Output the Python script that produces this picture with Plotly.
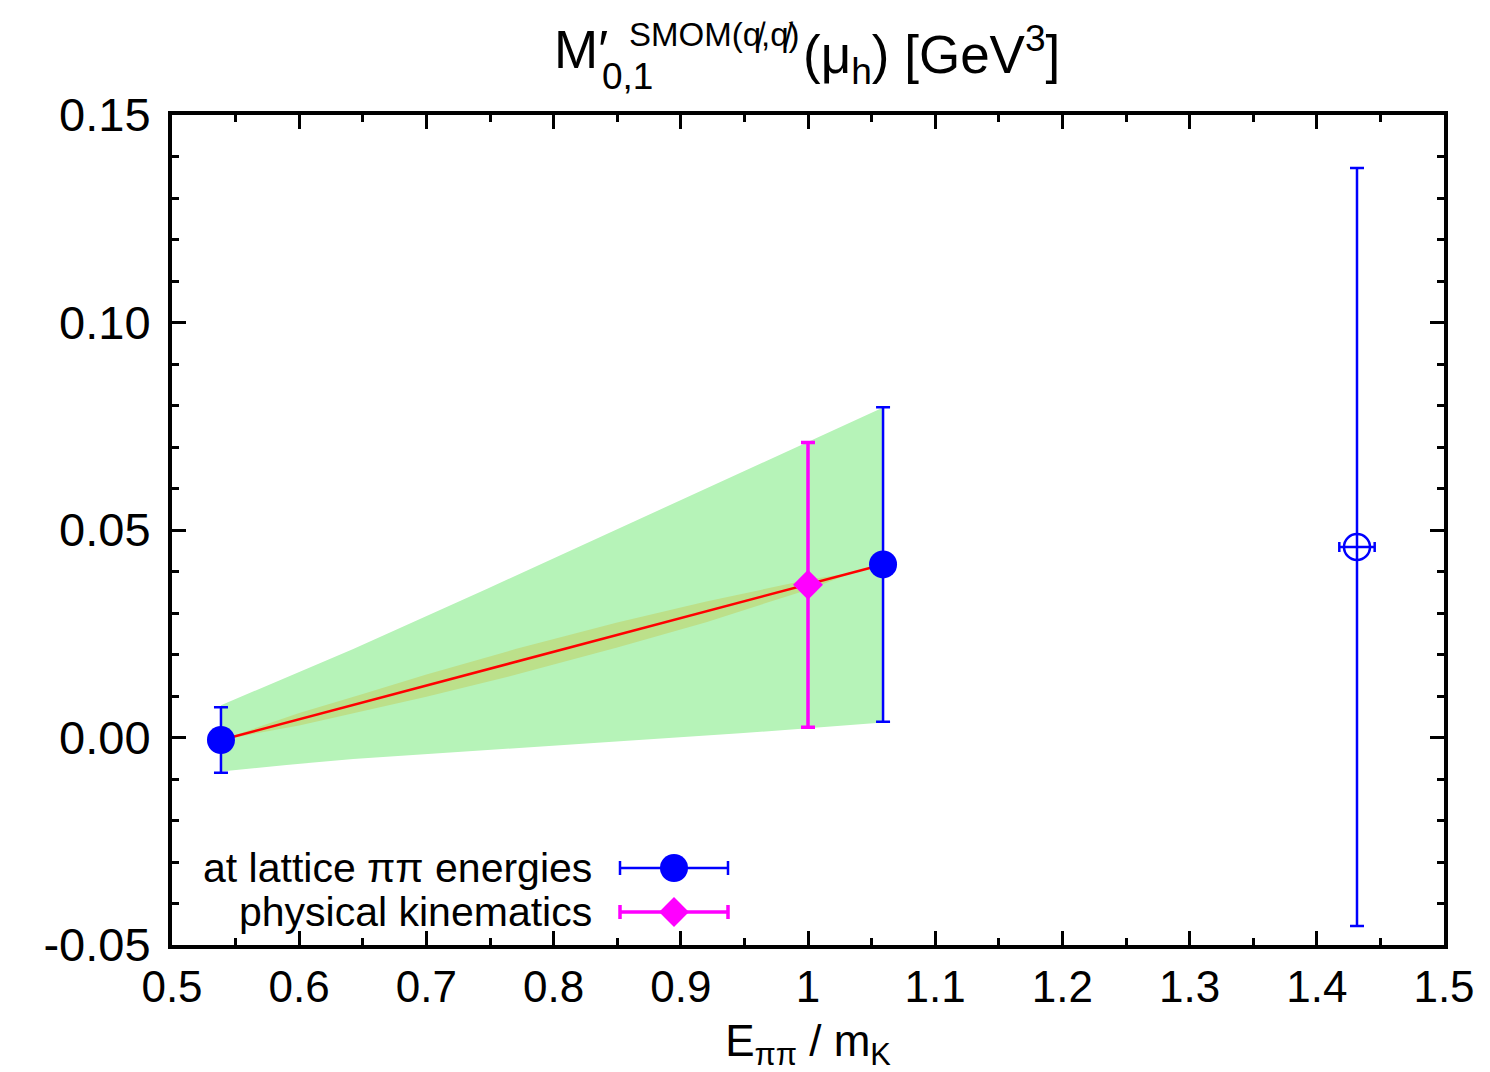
import plotly.graph_objects as go

# ---------------- data ----------------
lat_x = [0.5385, 1.059]
lat_y = [-0.0006, 0.0417]
lat_err = [0.0079, 0.0379]

phys_x = [1.0]
phys_y = [0.0368]
phys_err = [0.0343]

open_x = [1.4316]
open_y = [0.0459]
open_yerr = [0.0913]
open_xerr = [0.0139]

band_x = [0.5385, 0.59, 0.6425, 0.7474, 0.8522, 0.9465, 1.0, 1.059]
band_hi = [0.0078, 0.0144, 0.0213, 0.0358, 0.0505, 0.0637, 0.0713, 0.0795]
band_lo = [-0.0082, -0.0066, -0.0052, -0.0030, -0.0009, 0.0010, 0.0022, 0.0036]

inner_x = [0.5385, 0.60, 0.65, 0.70, 0.77, 0.85, 0.92, 0.97, 1.00, 1.035]
inner_hi = [-0.0006, 0.0059, 0.0105, 0.0152, 0.0213, 0.0277, 0.0328, 0.0361, 0.0380, 0.0397]
inner_lo = [-0.0006, 0.0029, 0.0063, 0.0098, 0.0151, 0.0217, 0.0278, 0.0327, 0.0356, 0.0397]

x_tick_vals = [0.5, 0.6, 0.7, 0.8, 0.9, 1.0, 1.1, 1.2, 1.3, 1.4, 1.5]
x_tick_text = ["0.5", "0.6", "0.7", "0.8", "0.9", "1", "1.1", "1.2", "1.3", "1.4", "1.5"]
y_tick_vals = [-0.05, 0.0, 0.05, 0.10, 0.15]
y_tick_text = ["-0.05", "0.00", "0.05", "0.10", "0.15"]

legend_labels = ["at lattice \u03c0\u03c0 energies", "physical kinematics"]

BLUE = "#0000ff"
MAGENTA = "#ff00ff"
RED = "#ff0000"
GREEN = "#b6f3b8"
OLIVE = "#bce08a"
FONT = "Liberation Sans, Arial, Helvetica, sans-serif"

W, H = 1490, 1072
L, R, T, B = 172, 46, 115, 127
PW, PH = W - L - R, H - T - B


def px(xp):
    return (xp - L) / PW


def py(yp):
    return (H - B - yp) / PH


fig = go.Figure()

# outer (green) band
fig.add_trace(go.Scatter(
    x=band_x + band_x[::-1], y=band_hi + band_lo[::-1],
    fill="toself", fillcolor=GREEN, line=dict(width=0),
    mode="lines", hoverinfo="skip", showlegend=False))

# inner (olive) band
fig.add_trace(go.Scatter(
    x=inner_x + inner_x[::-1], y=inner_hi + inner_lo[::-1],
    fill="toself", fillcolor=OLIVE, line=dict(width=0), mode="lines",
    hoverinfo="skip", showlegend=False))

# red fit line through the lattice points
fig.add_trace(go.Scatter(
    x=lat_x, y=lat_y, mode="lines", line=dict(color=RED, width=2.5),
    showlegend=False, hoverinfo="skip"))

# physical kinematics
fig.add_trace(go.Scatter(
    x=phys_x, y=phys_y, mode="markers",
    marker=dict(symbol="diamond", size=23, color=MAGENTA),
    error_y=dict(type="data", array=phys_err, color=MAGENTA, thickness=3.5, width=7),
    showlegend=False))

# lattice points
fig.add_trace(go.Scatter(
    x=lat_x, y=lat_y, mode="markers",
    marker=dict(symbol="circle", size=28, color=BLUE),
    error_y=dict(type="data", array=lat_err, color=BLUE, thickness=2.5, width=7),
    showlegend=False))

# open point
fig.add_trace(go.Scatter(
    x=open_x, y=open_y, mode="markers",
    marker=dict(symbol="circle-open", size=26, color=BLUE, line=dict(width=2.5, color=BLUE)),
    error_y=dict(type="data", array=open_yerr, color=BLUE, thickness=2.5, width=7),
    error_x=dict(type="data", array=open_xerr, color=BLUE, thickness=2.5, width=5),
    showlegend=False))

# ---------------- manual legend (gnuplot style: text left, sample right) -----
leg_x = px(674)
leg_half = (728 - 620) / 2 / PW
leg_y = [py(868), py(912)]
fig.add_trace(go.Scatter(
    x=[leg_x], y=[leg_y[0]], xaxis="x2", yaxis="y2", mode="markers",
    marker=dict(symbol="circle", size=28, color=BLUE),
    error_x=dict(type="data", array=[leg_half], color=BLUE, thickness=2.5, width=7),
    showlegend=False, hoverinfo="skip"))
fig.add_trace(go.Scatter(
    x=[leg_x], y=[leg_y[1]], xaxis="x2", yaxis="y2", mode="markers",
    marker=dict(symbol="diamond", size=23, color=MAGENTA),
    error_x=dict(type="data", array=[leg_half], color=MAGENTA, thickness=3.5, width=7),
    showlegend=False, hoverinfo="skip"))

annotations = []
for lab, yy in zip(legend_labels, leg_y):
    annotations.append(dict(
        text=lab, x=px(594), y=yy, xref="paper", yref="paper",
        xanchor="right", yanchor="middle", showarrow=False,
        font=dict(family=FONT, size=41, color="black")))

# ---------------- title pieces ----------------
title_font = dict(family=FONT, size=53, color="black")
annotations.append(dict(text="M\u2032", x=px(552), y=py(50), xref="paper", yref="paper",
                        xanchor="left", yanchor="middle", showarrow=False, font=title_font))
annotations.append(dict(text="0,1", x=px(600), y=py(76), xref="paper", yref="paper",
                        xanchor="left", yanchor="middle", showarrow=False,
                        font=dict(family=FONT, size=37, color="black")))
annotations.append(dict(text="SMOM(q\u0338,q\u0338)", x=px(627), y=py(35), xref="paper", yref="paper",
                        xanchor="left", yanchor="middle", showarrow=False,
                        font=dict(family=FONT, size=33, color="black")))
annotations.append(dict(text="(\u03bc<sub>h</sub>) [GeV<sup>3</sup>]", x=px(801), y=py(55),
                        xref="paper", yref="paper",
                        xanchor="left", yanchor="middle", showarrow=False, font=title_font))

fig.update_layout(
    width=W, height=H,
    margin=dict(l=L, r=R, t=T, b=B, pad=0),
    paper_bgcolor="white", plot_bgcolor="white",
    showlegend=False,
    annotations=annotations,
    xaxis=dict(
        range=[0.5, 1.5], tickmode="array", tickvals=x_tick_vals, ticktext=x_tick_text,
        ticks="inside", ticklen=14, tickwidth=3, tickcolor="black",
        minor=dict(tickmode="linear", tick0=0.5, dtick=0.05, ticks="inside",
                   ticklen=7, tickwidth=3, tickcolor="black", showgrid=False),
        showline=True, linewidth=4, linecolor="black", mirror="allticks",
        showgrid=False, zeroline=False, automargin=False,
        tickfont=dict(family=FONT, size=44, color="black"),
        ticklabelstandoff=0,
        title=dict(text="E<sub>\u03c0\u03c0</sub> / m<sub>K</sub>",
                   font=dict(family=FONT, size=44, color="black"), standoff=18),
    ),
    yaxis=dict(
        range=[-0.05, 0.15], tickmode="array", tickvals=y_tick_vals, ticktext=y_tick_text,
        ticks="inside", ticklen=14, tickwidth=3, tickcolor="black",
        minor=dict(tickmode="linear", tick0=0.0, dtick=0.01, ticks="inside",
                   ticklen=7, tickwidth=3, tickcolor="black", showgrid=False),
        showline=True, linewidth=4, linecolor="black", mirror="allticks",
        showgrid=False, zeroline=False, automargin=False,
        tickfont=dict(family=FONT, size=47, color="black"),
        ticklabelstandoff=8,
    ),
    xaxis2=dict(range=[0, 1], overlaying="x", anchor="y2", visible=False, fixedrange=True),
    yaxis2=dict(range=[0, 1], overlaying="y", anchor="x2", visible=False, fixedrange=True),
)

fig.write_html("out.html")
